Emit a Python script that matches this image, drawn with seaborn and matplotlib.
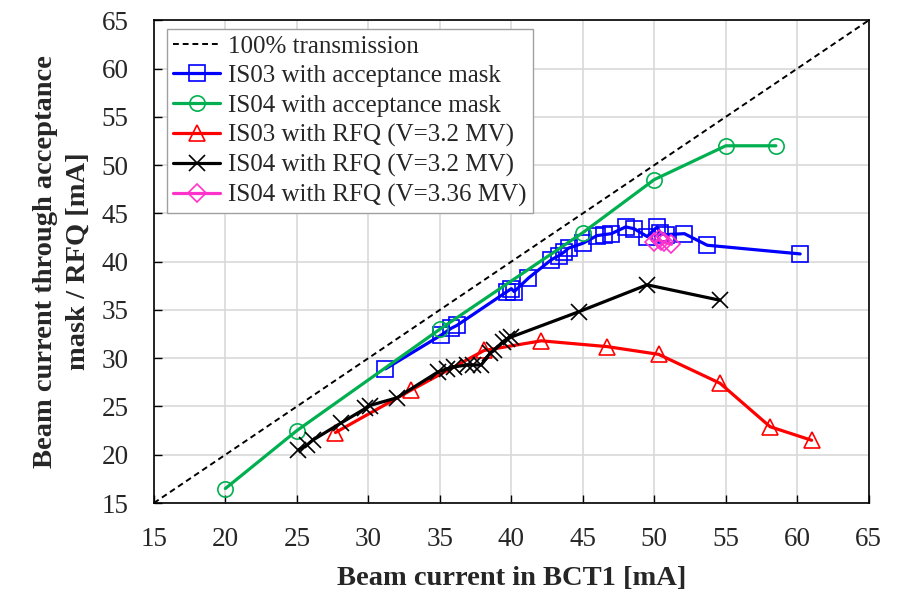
import numpy as np
import pandas as pd
import matplotlib
matplotlib.use("Agg")
import matplotlib.pyplot as plt
import seaborn as sns

# ---- data ----
ref_x = [15, 65]
ref_y = [15, 65]

is03_mask_x = [31.2, 35.1, 35.8, 36.2, 39.7, 40.0, 40.2, 41.2, 42.8, 43.3, 43.7, 44.0, 45.0,
               46.0, 46.5, 47.0, 48.0, 48.6, 49.5, 50.2, 50.4, 50.8, 52.1, 53.7, 60.2]
is03_mask_y = [28.9, 32.4, 33.1, 33.4, 36.9, 37.2, 36.9, 38.3, 40.2, 40.6, 41.0, 41.4, 41.9,
               42.7, 42.8, 42.9, 43.6, 43.4, 42.6, 43.6, 43.0, 42.8, 42.9, 41.7, 40.8]

is04_mask_x = [20, 25, 35, 45, 50, 55, 58.5]
is04_mask_y = [16.5, 22.5, 33.0, 43.0, 48.5, 52.0, 52.0]

is03_rfq_x = [27.7, 33.0, 38.1, 42.1, 46.7, 50.3, 54.6, 58.1, 61.0]
is03_rfq_y = [22.3, 26.7, 30.8, 31.8, 31.2, 30.4, 27.4, 22.9, 21.5]

is04_rfq_x = [25.1, 25.7, 26.1, 28.1, 29.8, 30.1, 32.0, 34.9, 35.5, 36.0, 36.9, 37.3, 37.9,
              38.5, 38.8, 39.4, 39.7, 40.0, 44.7, 49.5, 54.6]
is04_rfq_y = [20.5, 21.0, 21.5, 23.3, 24.8, 25.1, 25.9, 28.6, 28.9, 29.1, 29.3, 29.3, 29.3,
              30.5, 30.8, 31.7, 32.0, 32.2, 34.8, 37.6, 36.0]

is04_rfq336_x = [50.0, 50.3, 50.5, 50.7, 51.2]
is04_rfq336_y = [42.0, 42.3, 42.1, 42.0, 41.8]

labels = ["100% transmission", "IS03 with acceptance mask", "IS04 with acceptance mask",
          "IS03 with RFQ (V=3.2 MV)", "IS04 with RFQ (V=3.2 MV)", "IS04 with RFQ (V=3.36 MV)"]

sns.set_style("white")
plt.rcParams['font.family'] = ['Liberation Serif', 'DejaVu Serif']
plt.rcParams['mathtext.fontset'] = 'stix'

fig = plt.figure(figsize=(9.05, 5.96), dpi=100)
ax = fig.add_axes([0.170, 0.156, 0.790, 0.810])

# reference line
sns.lineplot(x=ref_x, y=ref_y, ax=ax, color="black", linestyle=(0, (3, 2)), linewidth=1.4,
             label=labels[0], sort=False)

series = [
    (is03_mask_x, is03_mask_y, "#0000FF", "s", 11, labels[1]),
    (is04_mask_x, is04_mask_y, "#00B050", "o", 11, labels[2]),
    (is03_rfq_x, is03_rfq_y, "#FF0000", "^", 11, labels[3]),
    (is04_rfq_x, is04_rfq_y, "#000000", "x", 11, labels[4]),
    (is04_rfq336_x, is04_rfq336_y, "#FF33CC", "D", 9, labels[5]),
]
for xs, ys, c, m, ms, lab in series:
    df = pd.DataFrame({"x": xs, "y": ys})
    sns.lineplot(data=df, x="x", y="y", ax=ax, color=c, linewidth=2.3, sort=False,
                 marker=m, markersize=ms, markerfacecolor="none", markeredgecolor=c,
                 markeredgewidth=1.2, label=lab)

ax.set_xlim(15, 65)
ax.set_ylim(15, 65)
ax.set_xticks(np.arange(15, 66, 5))
ax.set_yticks(np.arange(15, 66, 5))
ax.grid(True, color="#D9D9D9", linewidth=1.2)
ax.set_axisbelow(True)
for s in ax.spines.values():
    s.set_color("black")
    s.set_linewidth(1.2)
ax.tick_params(axis="both", direction="in", length=6, width=1, labelsize=19.5,
               bottom=True, left=True, top=False, right=False, color="black")
ax.tick_params(axis="x", pad=17)
ax.tick_params(axis="y", pad=18)

ax.set_xlabel("Beam current in BCT1 [mA]", fontsize=20.5, fontweight="bold", labelpad=10)
ax.set_ylabel("Beam current through acceptance\nmask / RFQ [mA]", fontsize=20.5,
              fontweight="bold", labelpad=8, linespacing=1.4)

leg = ax.legend(loc="upper left", bbox_to_anchor=(0.018, 0.982), fontsize=18, frameon=True,
                fancybox=False, edgecolor="#A0A0A0", framealpha=1, handlelength=1.9,
                handletextpad=0.3, labelspacing=0.28, borderpad=0.25, borderaxespad=0.0)
leg.get_frame().set_linewidth(1.0)

fig.savefig("out.png", dpi=100)
